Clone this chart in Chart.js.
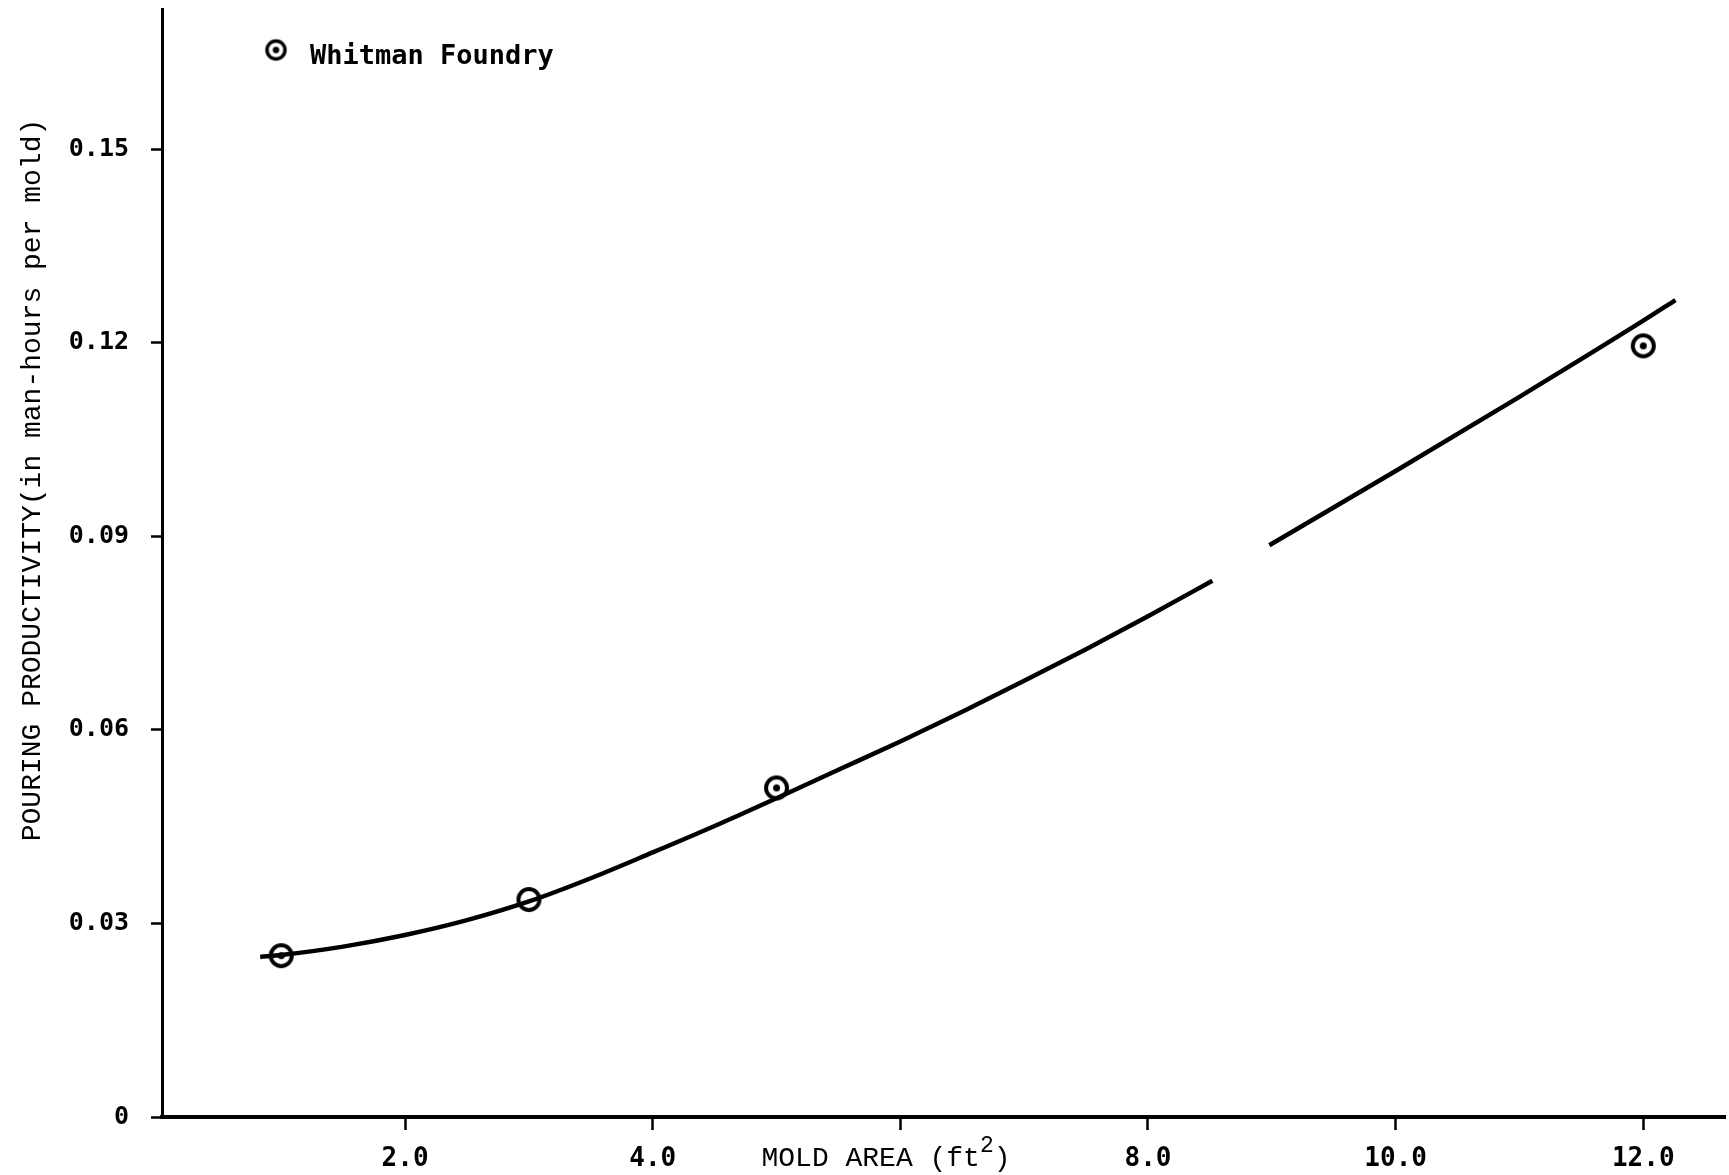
<!DOCTYPE html>
<html>
<head>
<meta charset="utf-8">
<script src="https://cdn.jsdelivr.net/npm/chart.js@4/dist/chart.umd.min.js"></script>
<style>
  html, body { margin: 0; padding: 0; background: #ffffff; }
  #wrap { width: 1729px; height: 1175px; position: relative; }
</style>
</head>
<body>
<div id="wrap"><canvas id="c" width="1729" height="1175"></canvas></div>
<script>
// ---- data ----
const seriesName = "Whitman Foundry";
const pointX = [1.0, 3.0, 5.0, 12.0];
const pointY = [0.0250, 0.0337, 0.0510, 0.1195];
const curveX = [0.83, 1.0, 1.5, 2.0, 2.5, 3.0, 3.5, 4.0, 4.5, 5.0, 5.5, 6.0, 6.5, 7.0, 7.5, 8.0, 8.52, 8.75, 8.98, 10.0, 11.0, 12.0, 12.26];
const curveY = [0.0248, 0.0251, 0.0264, 0.0282, 0.0305, 0.0334, 0.0370, 0.0410, 0.0451, 0.0494, 0.0538, 0.0582, 0.0628, 0.0676, 0.0725, 0.0776, 0.0831, null, 0.0886, 0.1001, 0.1116, 0.1234, 0.1266];
const xTickValues = [2, 4, 6, 8, 10, 12];
const xTickLabels = ["2.0", "4.0", "", "8.0", "10.0", "12.0"];
const yTickValues = [0, 0.03, 0.06, 0.09, 0.12, 0.15];
const yTickLabels = ["0", "0.03", "0.06", "0.09", "0.12", "0.15"];
const xTitle = "MOLD AREA (ft";
const xTitleSup = "2";
const yTitle = "POURING PRODUCTIVITY(in man-hours per mold)";

function makeMarker(r, lw, dot) {
  const s = Math.ceil((r + lw) * 2 + 2);
  const cv = document.createElement('canvas');
  cv.width = s; cv.height = s;
  const g = cv.getContext('2d');
  g.strokeStyle = '#000'; g.fillStyle = '#000'; g.lineWidth = lw;
  g.beginPath(); g.arc(s / 2, s / 2, r, 0, Math.PI * 2); g.stroke();
  if (dot) { g.beginPath(); g.arc(s / 2, s / 2, dot, 0, Math.PI * 2); g.fill(); }
  return cv;
}
const markDot = makeMarker(10.5, 4, 3.5);
const markHollow = makeMarker(10.5, 4, 0);
const markLegend = makeMarker(9, 3.5, 3.2);

const curveData = curveX.map((x, i) => ({ x: x, y: curveY[i] }));
const pointData = pointX.map((x, i) => ({ x: x, y: pointY[i] }));

const textPlugin = {
  id: 'texts',
  afterDraw(chart) {
    const ctx = chart.ctx;
    ctx.save();
    ctx.fillStyle = '#000';
    // legend
    ctx.drawImage(markLegend, 276 - markLegend.width / 2, 50 - markLegend.height / 2);
    ctx.font = 'bold 27px "DejaVu Sans Mono"';
    ctx.textBaseline = 'middle';
    ctx.textAlign = 'left';
    ctx.fillText(seriesName, 310, 57);
    // x title (sits on the tick-label line, in place of 6.0)
    ctx.font = '28px "Liberation Mono"';
    const w1 = ctx.measureText(xTitle).width;
    ctx.font = '23px "Liberation Mono"';
    const w2 = ctx.measureText(xTitleSup).width;
    ctx.font = '28px "Liberation Mono"';
    const w3 = ctx.measureText(")").width;
    let x0 = 886 - (w1 + w2 + w3) / 2;
    ctx.fillText(xTitle, x0, 1159);
    ctx.font = '23px "Liberation Mono"';
    ctx.fillText(xTitleSup, x0 + w1, 1146);
    ctx.font = '28px "Liberation Mono"';
    ctx.fillText(")", x0 + w1 + w2, 1159);
    // y title
    ctx.translate(33, 480);
    ctx.rotate(-Math.PI / 2);
    ctx.textAlign = 'center';
    ctx.font = '28px "Liberation Mono"';
    ctx.fillText(yTitle, 0, 0);
    ctx.restore();
  }
};

new Chart(document.getElementById('c'), {
  type: 'scatter',
  data: {
    datasets: [
      {
        label: seriesName + ' curve',
        data: curveData,
        showLine: true,
        borderColor: '#000',
        borderWidth: 4.5,
        pointRadius: 0,
        cubicInterpolationMode: 'monotone',
        spanGaps: false,
        order: 2
      },
      {
        label: seriesName,
        data: pointData,
        showLine: false,
        pointStyle: [markDot, markHollow, markDot, markDot],
        pointRadius: 13,
        order: 1
      }
    ]
  },
  options: {
    responsive: false,
    animation: false,
    layout: { autoPadding: false, padding: { top: 9, right: 4, left: 0, bottom: 0 } },
    plugins: { legend: { display: false }, tooltip: { enabled: false } },
    scales: {
      x: {
        type: 'linear',
        min: 0.037,
        max: 12.66,
        afterBuildTicks(scale) { scale.ticks = xTickValues.map(v => ({ value: v })); },
        afterFit(scale) { scale.height = 58; scale.paddingLeft = 0; scale.paddingRight = 0; },
        grid: { drawOnChartArea: false, drawTicks: true, tickLength: 13, tickColor: '#000', tickWidth: 2.5 },
        border: { display: true, color: '#000', width: 4 },
        ticks: {
          color: '#000',
          padding: 14,
          maxRotation: 0,
          autoSkip: false,
          font: { family: 'DejaVu Sans Mono', size: 26, weight: 'bold' },
          callback: (v) => { const i = xTickValues.indexOf(v); return i >= 0 ? xTickLabels[i] : ''; }
        }
      },
      y: {
        type: 'linear',
        min: 0,
        max: 0.1717,
        afterBuildTicks(scale) { scale.ticks = yTickValues.map(v => ({ value: v })); },
        afterFit(scale) { scale.width = 162; scale.paddingTop = 0; scale.paddingBottom = 0; },
        grid: { drawOnChartArea: false, drawTicks: true, tickLength: 11, tickColor: '#000', tickWidth: 2.5 },
        border: { display: true, color: '#000', width: 3 },
        ticks: {
          color: '#000',
          padding: 22,
          autoSkip: false,
          font: { family: 'DejaVu Sans Mono', size: 25, weight: 'bold' },
          callback: (v) => { const i = yTickValues.findIndex(t => Math.abs(t - v) < 1e-9); return i >= 0 ? yTickLabels[i] : ''; }
        }
      }
    }
  },
  plugins: [textPlugin]
});
</script>
</body>
</html>
